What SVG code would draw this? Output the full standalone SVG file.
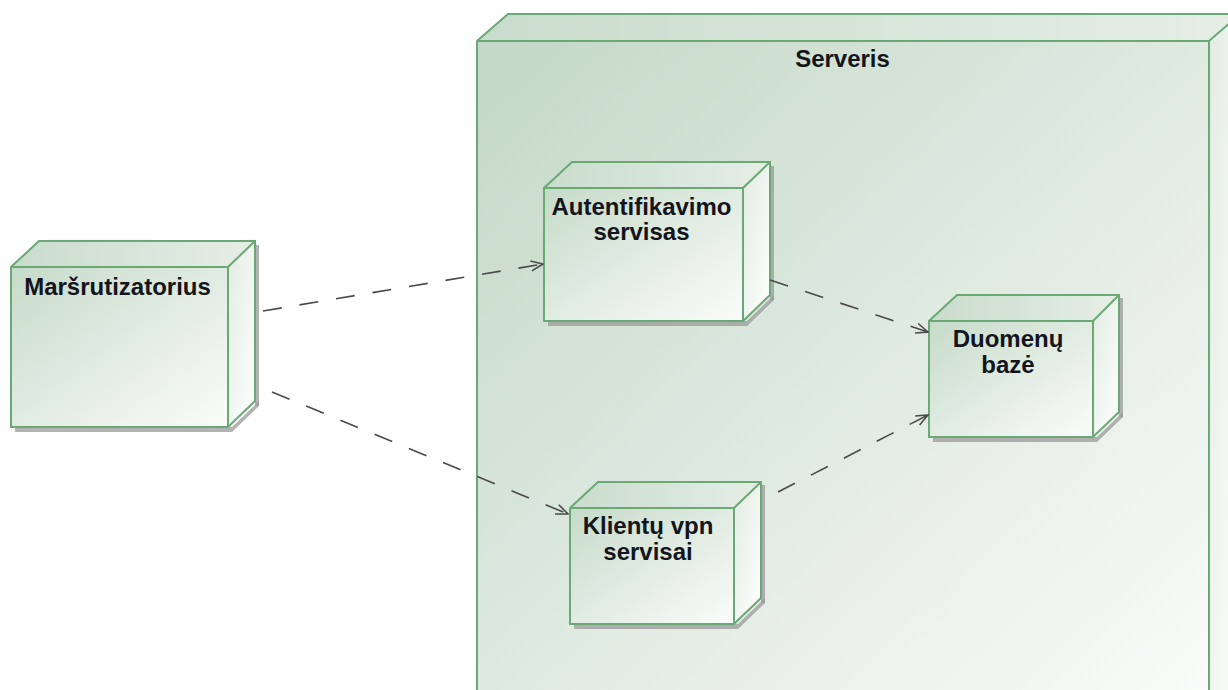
<svg xmlns="http://www.w3.org/2000/svg" width="1228" height="690" viewBox="0 0 1228 690">
  <style>
    .edge { stroke: #6aa874; stroke-width: 2; stroke-linejoin: miter; fill: none; }
    .front { fill: url(#gFront); }
    .top { fill: url(#gTop); }
    .side { fill: url(#gSide); }
    .shadow { fill: #9a9a9a; opacity: 0.75; }
    .label { font-family: "Liberation Sans", Arial, sans-serif; font-weight: bold; font-size: 24px; fill: #14141c; text-anchor: middle; }
    .dep { fill: none; stroke: #4a4a4a; stroke-width: 1.6; stroke-dasharray: 19 18; marker-end: url(#openArrow); }
  </style>
  <defs>
    <linearGradient id="gFront" x1="0" y1="0" x2="1" y2="1">
      <stop offset="0" stop-color="#c6dbc9"/>
      <stop offset="1" stop-color="#fbfcfb"/>
    </linearGradient>
    <linearGradient id="gTop" x1="0" y1="0" x2="1" y2="0">
      <stop offset="0" stop-color="#c9dccc"/>
      <stop offset="1" stop-color="#e6eee6"/>
    </linearGradient>
    <linearGradient id="gSide" x1="0" y1="0" x2="1" y2="1">
      <stop offset="0" stop-color="#e2ebe2"/>
      <stop offset="1" stop-color="#ffffff"/>
    </linearGradient>
    <linearGradient id="gServer" x1="0" y1="0" x2="1" y2="1">
      <stop offset="0" stop-color="#c3d8c6"/>
      <stop offset="1" stop-color="#fbfcfb"/>
    </linearGradient>
    <marker id="openArrow" viewBox="0 0 14 12" refX="13" refY="6" markerWidth="14" markerHeight="12" markerUnits="userSpaceOnUse" orient="auto">
      <path d="M1,1 L13,6 L1,11" fill="none" stroke="#4a4a4a" stroke-width="1.6"/>
    </marker>
  </defs>

  <!-- Server node (extends beyond canvas) -->
  <g id="node-serveris">
    <polygon class="top" points="477,41 508,14 1240,14 1209,41"/>
    <polygon class="side" points="1209,41 1240,14 1240,720 1209,720"/>
    <rect x="477" y="41" width="732" height="680" fill="url(#gServer)"/>
    <polyline class="edge" points="477,720 477,41 508,14 1240,14"/>
    <polyline class="edge" points="477,41 1209,41 1240,14"/>
    <line class="edge" x1="1209" y1="41" x2="1209" y2="720"/>
    <text class="label" x="842.5" y="67">Serveris</text>
  </g>

  <!-- Router node -->
  <g id="node-marsrutizatorius">
    <polygon class="shadow" points="15,427 232,427 259,401 259,406 232,432 15,432"/>
    <polygon class="shadow" points="255,245 259,245 259,406 255,406"/>
    <polygon class="top" points="11,267 39,241 255,241 228,267"/>
    <polygon class="side" points="228,267 255,241 255,401 228,427"/>
    <rect class="front" x="11" y="267" width="217" height="160"/>
    <polygon class="edge" points="11,267 39,241 255,241 255,401 228,427 11,427"/>
    <polyline class="edge" points="11,267 228,267 228,427"/>
    <line class="edge" x1="228" y1="267" x2="255" y2="241"/>
    <text class="label" x="117.5" y="295">Maršrutizatorius</text>
  </g>

  <!-- Authentication service node -->
  <g id="node-autentifikavimo">
    <polygon class="shadow" points="548,321 747,321 774,295 774,300 747,326 548,326"/>
    <polygon class="shadow" points="770,166 774,166 774,300 770,300"/>
    <polygon class="top" points="544,188 572,162 770,162 743,188"/>
    <polygon class="side" points="743,188 770,162 770,295 743,321"/>
    <rect class="front" x="544" y="188" width="199" height="133"/>
    <polygon class="edge" points="544,188 572,162 770,162 770,295 743,321 544,321"/>
    <polyline class="edge" points="544,188 743,188 743,321"/>
    <line class="edge" x1="743" y1="188" x2="770" y2="162"/>
    <text class="label" x="641.5" y="215">Autentifikavimo</text>
    <text class="label" x="641.5" y="240">servisas</text>
  </g>

  <!-- Database node -->
  <g id="node-duomenu-baze">
    <polygon class="shadow" points="933,437 1097,437 1123,412 1123,417 1097,442 933,442"/>
    <polygon class="shadow" points="1119,298 1123,298 1123,417 1119,417"/>
    <polygon class="top" points="929,321 957,295 1119,295 1093,321"/>
    <polygon class="side" points="1093,321 1119,295 1119,412 1093,437"/>
    <rect class="front" x="929" y="321" width="164" height="116"/>
    <polygon class="edge" points="929,321 957,295 1119,295 1119,412 1093,437 929,437"/>
    <polyline class="edge" points="929,321 1093,321 1093,437"/>
    <line class="edge" x1="1093" y1="321" x2="1119" y2="295"/>
    <text class="label" x="1008" y="347">Duomenų</text>
    <text class="label" x="1008" y="373">bazė</text>
  </g>

  <!-- Client VPN services node -->
  <g id="node-klientu-vpn">
    <polygon class="shadow" points="574,624 738,624 765,598 765,603 738,629 574,629"/>
    <polygon class="shadow" points="761,485 765,485 765,603 761,603"/>
    <polygon class="top" points="570,508 598,482 761,482 734,508"/>
    <polygon class="side" points="734,508 761,482 761,598 734,624"/>
    <rect class="front" x="570" y="508" width="164" height="116"/>
    <polygon class="edge" points="570,508 598,482 761,482 761,598 734,624 570,624"/>
    <polyline class="edge" points="570,508 734,508 734,624"/>
    <line class="edge" x1="734" y1="508" x2="761" y2="482"/>
    <text class="label" x="648" y="534">Klientų vpn</text>
    <text class="label" x="648" y="560">servisai</text>
  </g>

  <!-- Dependencies -->
  <g id="connectors">
    <line class="dep" x1="263" y1="311" x2="543" y2="264"/>
    <line class="dep" x1="272" y1="392" x2="568" y2="514"/>
    <line class="dep" x1="770" y1="280" x2="928" y2="332"/>
    <line class="dep" x1="778" y1="492" x2="928" y2="415"/>
  </g>
</svg>
